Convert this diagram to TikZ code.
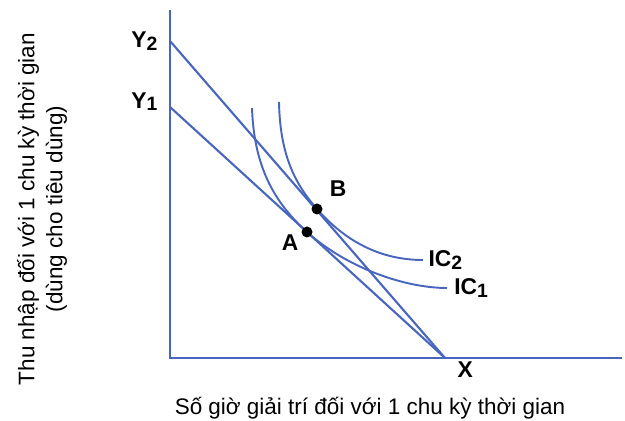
\documentclass[tikz,border=0pt]{standalone}
\usepackage{fontspec}
\setmainfont{Liberation Sans}
\usetikzlibrary{positioning}
\definecolor{lineblue}{RGB}{72,102,192}
\tikzstyle{axis} = [
    draw=lineblue,
    line width=1.2pt
]
\tikzstyle{budget} = [
    draw=lineblue,
    line width=1.2pt
]
\tikzstyle{curve} = [
    draw=lineblue,
    line width=1.1pt
]
\tikzstyle{dot} = [
    circle,
    fill=black,
    inner sep=0pt,
    minimum size=0.22cm
]
\tikzstyle{lab} = [
    font=\fontsize{13}{14}\selectfont\bfseries,
    inner sep=1pt
]
\tikzstyle{title} = [
    font=\fontsize{12.8}{16}\selectfont,
    align=center
]
\newcommand{\sub}[2]{#1\raisebox{-0.2ex}{\fontsize{11}{10}\selectfont #2}}

\begin{document}
\begin{tikzpicture}[x=0.02cm, y=-0.02cm]

\useasboundingbox (0,0) rectangle (625,421);

% Points
\coordinate (O) at (170,358);
\coordinate (top) at (170,10);
\coordinate (right) at (622,358);
\coordinate (Y1) at (170,107);
\coordinate (Y2) at (170,41);
\coordinate (X) at (445,358);

% Axes
\draw [axis] (top) -- (O) -- (right);

% Budget lines
\draw [budget] (Y2) -- (X);
\draw [budget] (Y1) -- (X);

% Indifference curves
\coordinate (A) at (307,232);
\coordinate (B) at (317,209);
\coordinate (ic1) at (447,288);
\coordinate (ic2) at (423,260);
\draw [curve] (252,108) .. controls (254,170) and (277,205) .. (A)
    .. controls (347,268) and (405,288) .. (ic1);
\draw [curve] (279,102) .. controls (280,155) and (295,184) .. (B)
    .. controls (345,241) and (380,260) .. (ic2);

\node (dotA) [dot] at (A) {};
\node (dotB) [dot] at (B) {};

% Labels
\node (labY2) [lab, left=6pt of Y2] {\sub{Y}{2}};
\node (labY1) [lab, left=6pt of Y1, yshift=3pt] {\sub{Y}{1}};
\node (labX) [lab, below right=1pt and 6pt of X] {X};
\node (labA) [lab] at (290,243) {A};
\node (labB) [lab] at (338,189) {B};
\node (labIC2) [lab, right=2pt of ic2] {\sub{IC}{2}};
\node (labIC1) [lab, right=3pt of ic1] {\sub{IC}{1}};

\node (xtitle) [title] at (370,408) {Số giờ giải trí đối với 1 chu kỳ thời gian};
\node (ytitle) [title, rotate=90] at (42,209)
{Thu nhập đối với 1 chu kỳ thời gian\\
(dùng cho tiêu dùng)};

\end{tikzpicture}
\end{document}
